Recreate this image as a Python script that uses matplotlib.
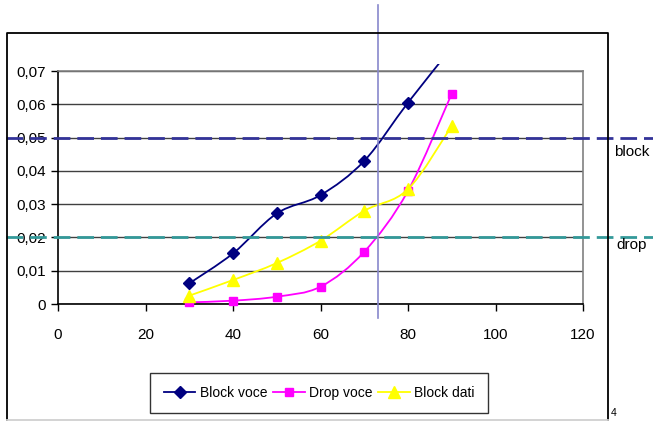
import matplotlib
matplotlib.use('Agg')
import matplotlib.pyplot as plt
import matplotlib.patches as mpatches
from matplotlib.path import Path
from matplotlib.lines import Line2D

plt.rcParams['font.family'] = ['Liberation Sans', 'DejaVu Sans']

# dati
x_vals = [30, 40, 50, 60, 70, 80, 90]
block_voce = [0.0062, 0.0152, 0.0272, 0.0327, 0.0430, 0.0605, 0.0770]
drop_voce = [0.0005, 0.0010, 0.0022, 0.0052, 0.0157, 0.0340, 0.0632]
block_dati = [0.0025, 0.0072, 0.0123, 0.0190, 0.0280, 0.0345, 0.0535]

x_ticks = [0, 20, 40, 60, 80, 100, 120]
y_ticks = [0, 0.01, 0.02, 0.03, 0.04, 0.05, 0.06, 0.07]
y_labels = ['0', '0,01', '0,02', '0,03', '0,04', '0,05', '0,06', '0,07']

block_level = 0.05
drop_level = 0.02
x_cut = 73.1

series = [
    ('Block voce', block_voce, '#000080', 'D', 6),
    ('Drop voce', drop_voce, '#FF00FF', 's', 6),
    ('Block dati', block_dati, '#FFFF00', '^', 8),
]


def smooth_path(xs, ys):
    """curva di Bezier tipo Catmull-Rom attraverso i punti"""
    pts = list(zip(xs, ys))
    n = len(pts)
    verts = [pts[0]]
    codes = [Path.MOVETO]
    for i in range(n - 1):
        p0 = pts[i - 1] if i > 0 else pts[i]
        p1 = pts[i]
        p2 = pts[i + 1]
        p3 = pts[i + 2] if i + 2 < n else pts[i + 1]
        c1 = (p1[0] + (p2[0] - p0[0]) / 6, p1[1] + (p2[1] - p0[1]) / 6)
        c2 = (p2[0] - (p3[0] - p1[0]) / 6, p2[1] - (p3[1] - p1[1]) / 6)
        verts += [c1, c2, p2]
        codes += [Path.CURVE4] * 3
    return Path(verts, codes)


fig = plt.figure(figsize=(6.53, 4.21), dpi=100)
ax = fig.add_axes([58 / 653, 117 / 421, 525 / 653, 233 / 421])

# cornice esterna del grafico
fx0, fx1, fy0, fy1 = 6.5 / 653, 608 / 653, 1.5 / 421, 1 - 33 / 421
fig.add_artist(Line2D([fx0, fx0, fx1, fx1], [fy0, fy1, fy1, fy0],
                      transform=fig.transFigure, color='black', linewidth=1.3))
fig.add_artist(Line2D([fx0, fx1], [fy0, fy0], transform=fig.transFigure,
                      color='#d0d0d0', linewidth=1.3))

ax.set_xlim(0, 120)
ax.set_ylim(0, 0.07)
ax.set_xticks(x_ticks)
ax.set_yticks(y_ticks)
ax.set_yticklabels(y_labels)
ax.tick_params(direction='out', length=5, width=1, labelsize=11, color='black')
ax.tick_params(axis='x', pad=12)
ax.tick_params(axis='y', pad=3.5)
ax.grid(axis='y', color='#404040', linewidth=1)
ax.set_axisbelow(True)
for side in ['top', 'right']:
    ax.spines[side].set_color('#808080')
    ax.spines[side].set_linewidth(1.2)
for side in ['left', 'bottom']:
    ax.spines[side].set_color('black')
    ax.spines[side].set_linewidth(1.2)

clip = mpatches.Rectangle((0, 0), 1, 1.028, transform=ax.transAxes)
handles = []
for name, ys, color, marker, ms in series:
    patch = mpatches.PathPatch(smooth_path(x_vals, ys), facecolor='none',
                               edgecolor=color, linewidth=1.3, zorder=3)
    ax.add_patch(patch)
    patch.set_clip_path(clip)
    if name == 'Block voce':
        mx, my = x_vals[:-1], ys[:-1]
    else:
        mx, my = x_vals, ys
    ax.plot(mx, my, linestyle='none', marker=marker, markersize=ms,
            color=color, zorder=4, clip_on=False)
    handles.append(Line2D([], [], color=color, marker=marker, markersize=ms,
                          linewidth=1.3))

# soglie tratteggiate e linea verticale
ax.axhline(block_level, xmin=-0.099, xmax=1.14, color='#333399',
           linewidth=2, dashes=(6, 2.5), clip_on=False, zorder=5)
ax.axhline(drop_level, xmin=-0.099, xmax=1.14, color='#339999',
           linewidth=2, dashes=(6, 2.5), clip_on=False, zorder=5)
ax.axvline(x_cut, ymin=-0.06, ymax=1.283, color='#8888cc', linewidth=1.2,
           clip_on=False, zorder=5)

fig.text(614 / 653, 1 - 152 / 421, 'block', fontsize=11, va='center')
fig.text(616 / 653, 1 - 245 / 421, 'drop', fontsize=11, va='center')
fig.text(611 / 653, 1 - 413 / 421, '4', fontsize=7.5, va='center')

leg = fig.legend(handles, [s[0] for s in series], loc='center',
                 bbox_to_anchor=(319 / 653, 1 - 393 / 421), ncol=3,
                 fontsize=10, frameon=True, fancybox=False,
                 handlelength=2.3, handletextpad=0.3, columnspacing=0.4,
                 borderpad=0.95, borderaxespad=0)
leg.get_frame().set_edgecolor('black')
leg.get_frame().set_linewidth(1)

fig.savefig('out.png', dpi=100)
